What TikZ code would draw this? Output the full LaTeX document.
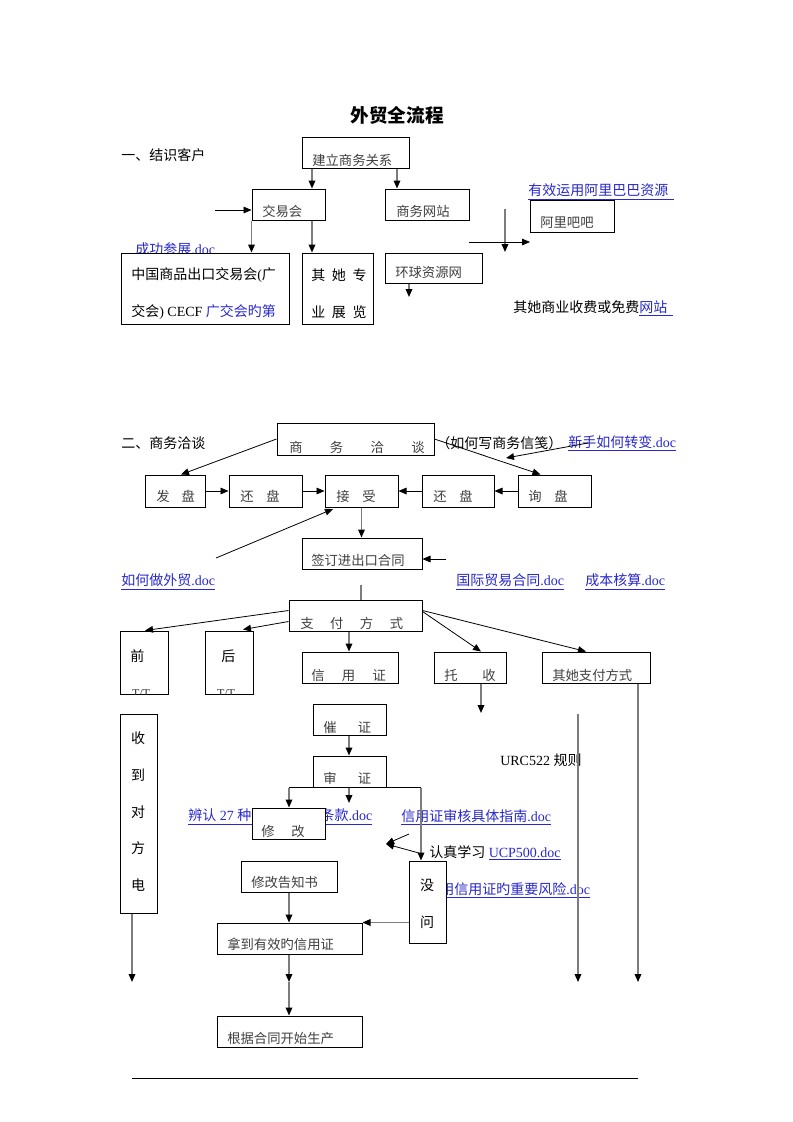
\documentclass[tikz,border=0pt]{standalone}
\usepackage{fontspec}
\setmainfont{Liberation Serif}
\newfontfamily\cjk{Noto Sans CJK SC}
\usetikzlibrary{arrows.meta,fit,calc}
\definecolor{lnkblue}{RGB}{40,40,205}
\definecolor{lgray}{RGB}{125,125,125}
\newcommand\zh[1]{{\cjk #1}}
\newcommand\lk[1]{\textcolor{lnkblue}{\underline{#1}}}
\tikzset{
 bx/.style={draw, line width=0.75pt, fill=white, inner sep=0pt},
 bt/.style={inner sep=0pt, anchor=west, font=\cjk\fontsize{10}{12}\selectfont, text=black!75},
 tx/.style={inner sep=0pt, anchor=west, font=\fontsize{10.5}{12.6}\selectfont},
 arr/.style={line width=0.6pt, -{Triangle[length=6pt,width=5pt]}},
 garr/.style={line width=0.9pt, draw=lgray, -{Triangle[length=6pt,width=5pt,color=black]}},
 gln/.style={line width=0.9pt, draw=lgray},
}
\begin{document}
\begin{tikzpicture}[x=0.75pt,y=-0.75pt]
\fill[white] (0,0) rectangle (793,1122);
\useasboundingbox (0,0) rectangle (793,1122);

% ---------- free texts ----------
\node[font=\cjk\bfseries\fontsize{14}{17}\selectfont] (title) at (397,115) {外贸全流程};
\node[tx] (s1) at (121,155) {\zh{一、结识客户}};
\node[tx] (l1) at (528,192) {\lk{\zh{有效运用阿里巴巴资源}\hspace{4pt}}};
\node[tx, text=lnkblue] (l2) at (135,249) {\zh{成功参展}.doc};
\node[tx] (t3) at (513,308) {\zh{其她商业收费或免费}\lk{\zh{网站}\hspace{4pt}}};
\node[tx] (s2) at (121,443) {\zh{二、商务洽谈}};
\node[tx] (t4) at (436,443) {\zh{（如何写商务信笺）}};
\node[tx] (l5) at (568,443) {\lk{\zh{新手如何转变}.doc}};
\node[tx] (l6) at (121,582) {\lk{\zh{如何做外贸}.doc}};
\node[tx] (l7) at (456,582) {\lk{\zh{国际贸易合同}.doc}};
\node[tx] (l8) at (585,582) {\lk{\zh{成本核算}.doc}};
\node[tx] (t9) at (500,760) {URC522 \zh{规则}};
\node[tx] (l10) at (188,817) {\lk{\zh{辨认} 27 \zh{种信用证软}\hspace{10pt}\zh{条款}.doc}};
\node[tx] (l11) at (401,817) {\lk{\zh{信用证审核具体指南}.doc}};
\node[tx] (t12) at (429,853) {\zh{认真学习} \lk{UCP500.doc}};
\node[tx] (l13) at (440,890) {\lk{\zh{用信用证旳重要风险}.doc}};

% ---------- boxes ----------
\node[bx, fit={(302,137) (409,168)}] (jl) {};
\node[bx, fit={(252,189) (325,220)}] (jyh) {};
\node[bx, fit={(385,189) (469,220)}] (swwz) {};
\node[bx, fit={(530,200) (614,232)}] (albb) {};
\node[bx, fit={(121,253) (289,324)}] (zg) {};
\node[bx, fit={(302,253) (373,324)}] (qtzl) {};
\node[bx, fit={(385,253) (482,283)}] (hqzy) {};
\node[bx, fit={(277,423) (434,455)}] (swqt) {};
\node[bx, fit={(145,475) (205,507)}] (fp) {};
\node[bx, fit={(229,475) (302,507)}] (hp1) {};
\node[bx, fit={(325,475) (398,507)}] (js) {};
\node[bx, fit={(422,475) (494,507)}] (hp2) {};
\node[bx, fit={(518,475) (591,507)}] (xp) {};
\node[bx, fit={(302,538) (422,569)}] (qd) {};
\node[bx, fit={(289,600) (422,631)}] (zf) {};
\node[bx, fit={(120,631) (168,694)}] (qian) {};
\node[bx, fit={(205,631) (253,694)}] (hou) {};
\node[bx, fit={(302,652) (398,683)}] (xyz) {};
\node[bx, fit={(434,652) (506,683)}] (ts) {};
\node[bx, fit={(542,652) (650,683)}] (qtzf) {};
\node[bx, fit={(120,714) (157,913)}] (sddf) {};
\node[bx, fit={(313,704) (386,735)}] (cz) {};
\node[bx, fit={(313,756) (386,787)}] (sz) {};
\node[bx, fit={(252,808) (325,839)}] (xg) {};
\node[bx, fit={(241,861) (337,892)}] (xggz) {};
\node[bx, fit={(409,861) (446,943)}] (mw) {};
\node[bx, fit={(217,923) (362,954)}] (ndxyz) {};
\node[bx, fit={(217,1016) (362,1047)}] (gjht) {};

% ---------- box texts ----------
\node[bt] (jl-t) at (312,160) {建立商务关系};
\node[bt] (jyh-t) at (262,211) {交易会};
\node[bt] (swwz-t) at (396,211) {商务网站};
\node[bt] (albb-t) at (540,223) {阿里吧吧};
\node[tx] (zg-t1) at (131,275) {\zh{中国商品出口交易会}(\zh{广}};
\node[tx] (zg-t2) at (131,312) {\zh{交会}) CECF \textcolor{lnkblue}{\zh{广交会旳第}}};
\node[tx] (qtzl-t1) at (311,275) {\zh{其\hspace{5pt}她\hspace{5pt}专}};
\node[tx] (qtzl-t2) at (311,312) {\zh{业\hspace{5pt}展\hspace{5pt}览}};
\node[bt] (hqzy-t) at (395,272) {环球资源网};
\node[bt] (swqt-t) at (289,447) {商\hspace{20.5pt}务\hspace{20.5pt}洽\hspace{20.5pt}谈};
\node[bt] (fp-t) at (156,496) {发\hspace{9pt}盘};
\node[bt] (hp1-t) at (240,496) {还\hspace{9.5pt}盘};
\node[bt] (js-t) at (336,496) {接\hspace{9.5pt}受};
\node[bt] (hp2-t) at (433,496) {还\hspace{9.5pt}盘};
\node[bt] (xp-t) at (528,496) {询\hspace{9.5pt}盘};
\node[bt] (qd-t) at (311,560) {签订进出口合同};
\node[bt] (zf-t) at (300,623) {支\hspace{12.4pt}付\hspace{12.4pt}方\hspace{12.4pt}式};
\node[tx] (qian-t) at (130,656) {\zh{前}};
\node[tx] (hou-t) at (221,656) {\zh{后}};
\begin{scope}
\clip (qian.south west) rectangle (qian.north east);
\node[inner sep=0pt, font=\fontsize{9}{10}\selectfont, text=black!80] (qian-tt) at (141,694) {T/T};
\end{scope}
\begin{scope}
\clip (hou.south west) rectangle (hou.north east);
\node[inner sep=0pt, font=\fontsize{9}{10}\selectfont, text=black!80] (hou-tt) at (226,694) {T/T};
\end{scope}
\node[bt] (xyz-t) at (311,675) {信\hspace{13pt}用\hspace{13pt}证};
\node[bt] (ts-t) at (444,675) {托\hspace{18.5pt}收};
\node[bt] (qtzf-t) at (552,675) {其她支付方式};
\node[tx, anchor=center] (sd1) at (138,738) {\zh{收}};
\node[tx, anchor=center] (sd2) at (138,775) {\zh{到}};
\node[tx, anchor=center] (sd3) at (138,812) {\zh{对}};
\node[tx, anchor=center] (sd4) at (138,848) {\zh{方}};
\node[tx, anchor=center] (sd5) at (138,885) {\zh{电}};
\node[bt] (cz-t) at (323,727) {催\hspace{16pt}证};
\node[bt] (sz-t) at (323,778) {审\hspace{16pt}证};
\node[bt] (xg-t) at (261,831) {修\hspace{12.5pt}改};
\node[bt] (xggz-t) at (251,882) {修改告知书};
\node[tx, anchor=center] (mw-t1) at (427,885) {\zh{没}};
\node[tx, anchor=center] (mw-t2) at (427,922) {\zh{问}};
\node[bt] (ndxyz-t) at (227,944) {拿到有效旳信用证};
\node[bt] (gjht-t) at (227,1038) {根据合同开始生产};

% ---------- helper coordinates ----------
\coordinate (X132) at (132,0);
\coordinate (X289) at (289,0);
\coordinate (X312) at (312,0);
\coordinate (X349) at (349,0);
\coordinate (X397) at (397,0);
\coordinate (X409) at (409,0);
\coordinate (X421) at (421,0);
\coordinate (X481) at (481,0);
\coordinate (X638) at (638,0);
\coordinate (cIn) at (215,210);
\coordinate (cV1) at (505,209);
\coordinate (cV2) at (505,252);
\coordinate (cH1) at (469,242);
\coordinate (cH2) at (530,242);
\coordinate (cHq) at (409,297);
\coordinate (cLk1) at (588,443);
\coordinate (cLk2) at (506,458);
\coordinate (cDg) at (216,558);
\coordinate (cDgT) at (333,509);
\coordinate (cQd) at (446,559);
\coordinate (cZf) at (361,585);
\coordinate (cTs) at (481,713);
\coordinate (cQz) at (638,982);
\coordinate (cR1) at (578,714);
\coordinate (cR2) at (578,982);
\coordinate (cSd) at (132,982);
\coordinate (cSz) at (349,803);
\coordinate (cDm) at (386,844);
\coordinate (cDa) at (409,834);
\coordinate (cDb) at (419,853);
\coordinate (cMid) at (289,982);

% ---------- connectors: part 1 ----------
\draw[garr] (jl.south -| X312) -- (X312 |- jyh.north);
\draw[garr] (jl.south -| X397) -- (X397 |- swwz.north);
\draw[arr] (cIn) -- (cIn -| jyh.west);
\draw[garr] (jyh.south west) -- (jyh.south west |- zg.north);
\draw[garr] (jyh.south -| X312) -- (X312 |- qtzl.north);
\draw[garr] (cV1) -- (cV2);
\draw[arr] (cH1) -- (cH2);
\draw[garr] (hqzy.south -| X409) -- (cHq);

% ---------- connectors: part 2 ----------
\draw[arr] (swqt.west) -- ($(fp.north)+(6,0)$);
\draw[arr] (swqt.east) -- ($(xp.north)+(-14,0)$);
\draw[arr] (cLk1) -- (cLk2);
\draw[arr] (fp.east) -- (hp1.west);
\draw[arr] (hp1.east) -- (js.west);
\draw[arr] (hp2.west) -- (js.east);
\draw[arr] (xp.west) -- (hp2.west -| hp2.east);
\draw[arr] (cDg) -- (cDgT);
\draw[garr] (js.south) -- (js.south |- qd.north);
\draw[arr] (cQd) -- (cQd -| qd.east);
\draw[gln] (cZf) -- (cZf |- zf.north);
\draw[arr] ($(zf.north west)+(0,11)$) -- ($(qian.north)+(1,0)$);
\draw[arr] ($(zf.north west)+(0,22)$) -- ($(hou.north)+(14,-1)$);
\draw[garr] (zf.south -| X349) -- (X349 |- xyz.north);
\draw[arr] ($(zf.north east)+(0,12)$) -- ($(ts.north)+(11,0)$);
\draw[arr] ($(zf.north east)+(0,11)$) -- ($(qtzf.north)+(-10,0)$);
\draw[garr] (ts.south -| X481) -- (cTs);
\draw[garr] (qtzf.south -| X638) -- (cQz);
\draw[garr] (cR1) -- (cR2);
\draw[garr] (sddf.south -| X132) -- (cSd);
\draw[garr] (cz.south -| X349) -- (X349 |- sz.north);
\draw[line width=0.75pt] (sz.south -| X289) -- (sz.south -| X421);
\draw[garr] (sz.south -| X289) -- (X289 |- xg.north);
\draw[garr] (sz.south -| X349) -- (cSz);
\draw[garr] (sz.south -| X421) -- (X421 |- mw.north);
\draw[arr] (cDa) -- (cDm);
\draw[arr] (cDb) -- (cDm);
\draw[garr] (xggz.south -| X289) -- (X289 |- ndxyz.north);
\draw[garr] (mw.west |- ndxyz.north east) -- (ndxyz.north east);
\draw[garr] (ndxyz.south -| X289) -- (cMid);
\draw[garr] (cMid) -- (X289 |- gjht.north);

% ---------- footer rule ----------
\coordinate (hrA) at (132,1078);
\coordinate (hrB) at (638,1078);
\draw[line width=0.75pt] (hrA) -- (hrB);
\end{tikzpicture}
\end{document}
